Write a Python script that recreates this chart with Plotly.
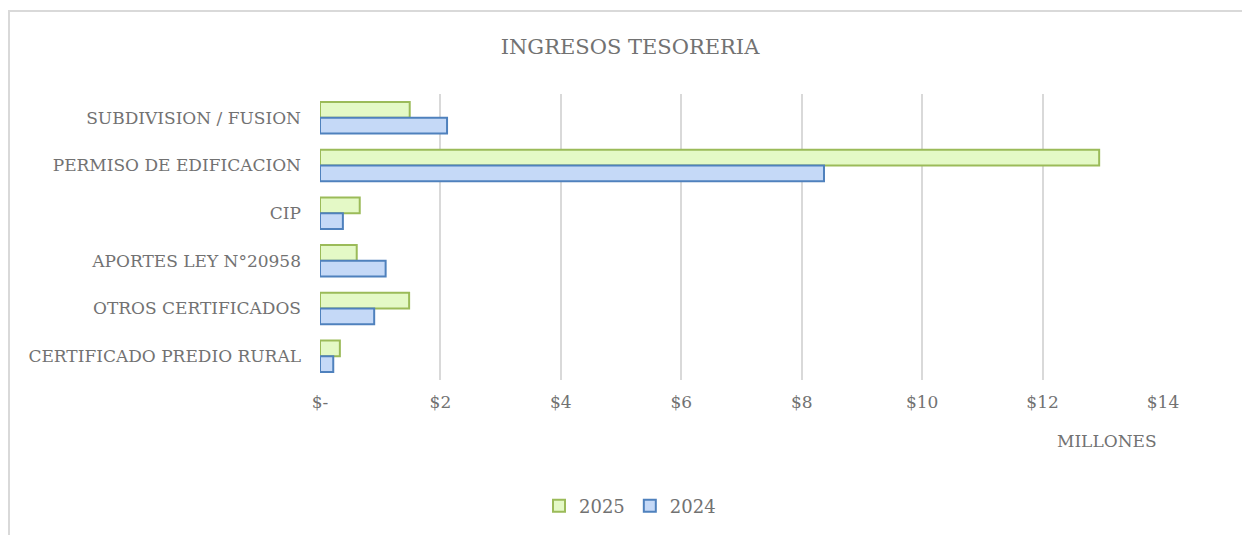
import plotly.graph_objects as go

categories = ["SUBDIVISION / FUSION", "PERMISO DE EDIFICACION", "CIP",
              "APORTES LEY N°20958", "OTROS CERTIFICADOS", "CERTIFICADO PREDIO RURAL"]
values_2025 = [1.49, 12.94, 0.66, 0.61, 1.48, 0.33]
values_2024 = [2.11, 8.37, 0.38, 1.09, 0.90, 0.22]
tick_vals = [0, 2, 4, 6, 8, 10, 12, 14]
tick_text = ["$-", "$2", "$4", "$6", "$8", "$10", "$12", "$14"]

W, H = 1250, 535
OFF = 8  # page body margin
L, R, T, B = 320 - OFF, 87 + OFF, 94 - OFF, 155 + OFF
pw, ph = W - L - R, H - T - B

def px_x(x):
    return (x - OFF - L) / pw

def px_y(y):
    return (H - B - (y - OFF)) / ph

font_fam = "DejaVu Serif, Liberation Serif, serif"
txt = "#727272"

fig = go.Figure()
fig.add_trace(go.Bar(y=categories, x=values_2025, name="2025", orientation="h",
                     marker=dict(color="#e4f9c6", line=dict(color="#9bbb59", width=2))))
fig.add_trace(go.Bar(y=categories, x=values_2024, name="2024", orientation="h",
                     marker=dict(color="#c5d9f7", line=dict(color="#4f81bd", width=2))))

fig.update_layout(
    width=W, height=H,
    margin=dict(l=L, r=R, t=T, b=B, autoexpand=False),
    paper_bgcolor="white", plot_bgcolor="white",
    barmode="group", bargap=0.34, bargroupgap=0.0,
    font=dict(family=font_fam, color=txt, size=17),
    title=dict(text="INGRESOS TESORERIA", x=(630 - OFF) / W, xanchor="center",
               y=1 - (47 - OFF) / H, yanchor="middle",
               font=dict(size=21, color=txt, family=font_fam)),
    xaxis=dict(range=[0, 14], tickvals=tick_vals, ticktext=tick_text,
               showgrid=True, gridcolor="#d9d9d9", gridwidth=2,
               zeroline=False, showline=False, ticks="",
               tickfont=dict(size=17, color=txt), ticklabelstandoff=10),
    yaxis=dict(autorange="reversed", showgrid=False, zeroline=False,
               showline=False, ticks="", ticklabelstandoff=18,
               tickfont=dict(size=17, color=txt)),
    legend=dict(orientation="h", x=px_x(630), xanchor="center",
                y=px_y(506), yanchor="middle",
                font=dict(size=18, color=txt), traceorder="normal",
                itemwidth=30),
    showlegend=True,
)

fig.add_annotation(text="MILLONES", xref="paper", yref="paper",
                   x=px_x(1107), y=px_y(441), xanchor="center", yanchor="middle",
                   showarrow=False, font=dict(size=17, color=txt, family=font_fam))

fig.add_shape(type="rect", xref="paper", yref="paper",
              x0=px_x(9), x1=px_x(1320), y0=px_y(600), y1=px_y(11),
              line=dict(color="#d9d9d9", width=2), fillcolor="rgba(0,0,0,0)",
              layer="below")

fig.write_html("out.html")
